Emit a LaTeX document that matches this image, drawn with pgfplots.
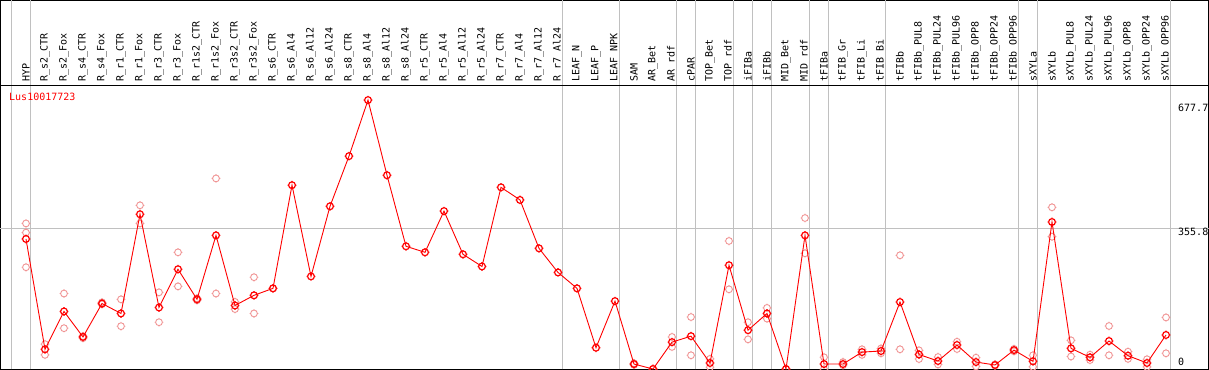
\documentclass[border=0pt]{standalone}
\usepackage{fontspec}
\usepackage{pgfplots}
\pgfplotsset{compat=1.18}
\newfontfamily\labfont{DejaVu Sans Mono}
\definecolor{gridgray}{HTML}{C0C0C0}
\definecolor{faint}{HTML}{F09494}
\pgfdeclareplotmark{tcirc}{%
  \pgfpathcircle{\pgfpointorigin}{\pgfplotmarksize}%
  \pgfpathmoveto{\pgfpoint{0pt}{\pgfplotmarksize}}\pgfpathlineto{\pgfpoint{0pt}{\pgfplotmarksize+0.9pt}}%
  \pgfpathmoveto{\pgfpoint{0pt}{-\pgfplotmarksize}}\pgfpathlineto{\pgfpoint{0pt}{-\pgfplotmarksize-0.9pt}}%
  \pgfpathmoveto{\pgfpoint{\pgfplotmarksize}{0pt}}\pgfpathlineto{\pgfpoint{\pgfplotmarksize+0.9pt}{0pt}}%
  \pgfpathmoveto{\pgfpoint{-\pgfplotmarksize}{0pt}}\pgfpathlineto{\pgfpoint{-\pgfplotmarksize-0.9pt}{0pt}}%
  \pgfusepathqstroke}
\pgfplotstableread{
x y
1 329
2 52
3 147
4 83
5 167
6 142
7 391
8 157
9 253
10 177.5
11 338
12 162
13 187.5
14 205
15 464
16 235
17 411
18 537
19 677.7
20 489
21 310.6
22 295.5
23 399
24 290.5
25 260
26 458.7
27 427
28 305.5
29 245
30 205
31 56
32 173
33 15
34 2.5
35 70
36 85
37 17.6
38 263
39 100
40 142
41 2.5
42 338
43 15
44 15
45 45
46 47.7
47 170.7
48 39
49 22.6
50 62.8
51 20
52 12.6
53 50
54 21.8
55 371.6
56 54.4
57 31.8
58 72.8
59 36
60 17.6
61 88
}\means
\pgfplotstableread{
x y
1 368
1 345
1 258
2 65
2 38
3 192
3 105
4 85
4 80
5 165
5 170
6 177.5
6 110
7 413.5
7 368
8 195
8 120
9 295.5
9 210
10 175
10 180
11 481
11 192
12 153
12 171
13 233
13 142
14 205
33 13
33 17
34 2
34 3
35 83
35 58
36 133
36 37
37 28
37 7
38 324
38 202.6
39 120
39 77
40 156
40 129
41 3
42 381.6
42 293
43 32
43 2
44 20
44 12
45 52
45 38
46 54
46 42
47 288
47 52
48 49.4
48 27.6
49 32.6
49 14
50 71
50 52.7
51 31
51 9
52 14
52 11
53 53
53 47
54 37
54 8
55 408.5
55 334.7
56 74.5
56 34
57 38.5
57 25
58 110.5
58 37
59 46
59 28
60 27
60 8
61 132
61 42
}\reps
\begin{document}
\begin{tikzpicture}
\begin{axis}[
  width=1208pt, height=369pt, scale only axis,
  xmin=-0.342, xmax=63.237, ymin=1.3, ymax=927.7,
  axis line style={black, line width=1pt},
  clip mode=individual,
  major tick length=0pt,
  xtick={1,...,61},
  xticklabels={HYP,R\_s2\_CTR,R\_s2\_Fox,R\_s4\_CTR,R\_s4\_Fox,R\_r1\_CTR,R\_r1\_Fox,R\_r3\_CTR,R\_r3\_Fox,R\_r1s2\_CTR,R\_r1s2\_Fox,R\_r3s2\_CTR,R\_r3s2\_Fox,R\_s6\_CTR,R\_s6\_Al4,R\_s6\_Al12,R\_s6\_Al24,R\_s8\_CTR,R\_s8\_Al4,R\_s8\_Al12,R\_s8\_Al24,R\_r5\_CTR,R\_r5\_Al4,R\_r5\_Al12,R\_r5\_Al24,R\_r7\_CTR,R\_r7\_Al4,R\_r7\_Al12,R\_r7\_Al24,LEAF\_N,LEAF\_P,LEAF\_NPK,SAM,AR\_Bet,AR\_rdf,cPAR,TOP\_Bet,TOP\_rdf,iFIBa,iFIBb,MID\_Bet,MID\_rdf,tFIBa,tFIB\_Gr,tFIB\_Li,tFIB\_Bi,tFIBb,tFIBb\_PUL8,tFIBb\_PUL24,tFIBb\_PUL96,tFIBb\_OPP8,tFIBb\_OPP24,tFIBb\_OPP96,sXYLa,sXYLb,sXYLb\_PUL8,sXYLb\_PUL24,sXYLb\_PUL96,sXYLb\_OPP8,sXYLb\_OPP24,sXYLb\_OPP96},
  xticklabel pos=upper,
  xticklabel style={font=\labfont\fontsize{10}{10}\selectfont, yshift=-81.5pt, rotate=90, anchor=west, inner sep=0pt},
  yticklabel style={inner sep=0pt},
  ytick=\empty,
  extra x ticks={0.23,1.23,29.23,32.23,35.23,36.23,38.23,39.23,40.23,42.23,43.23,46.23,53.23,54.23,61.23},
  extra x tick labels={},
  extra y ticks={355.8},
  extra y tick labels={},
  extra tick style={grid=major},
  major grid style={gridgray, line width=1pt},
]
\addplot[only marks, mark=tcirc, mark size=3.4pt, draw=faint, mark options={line width=0.9pt}] table[x=x, y=y] {\reps};
\addplot[red, line width=0.9pt, mark=tcirc, mark size=3.4pt, mark options={line width=1.2pt}] table[x=x, y=y] {\means};
\draw[black, line width=1pt] (axis cs:-0.342,715.5) -- (axis cs:63.237,715.5);
\node[anchor=west, inner sep=0pt, font=\labfont\fontsize{10}{10}\selectfont, text=red] at (axis cs:0.105,685) {Lus10017723};
\node[anchor=west, inner sep=0pt, font=\labfont\fontsize{10}{10}\selectfont] at (axis cs:61.63,658) {677.7};
\node[anchor=west, inner sep=0pt, font=\labfont\fontsize{10}{10}\selectfont] at (axis cs:61.63,346.5) {355.8};
\node[anchor=west, inner sep=0pt, font=\labfont\fontsize{10}{10}\selectfont] at (axis cs:61.63,20) {0};
\end{axis}
\pgfresetboundingbox
\useasboundingbox ([shift={(-0.5pt,-0.5pt)}]current axis.south west) rectangle ([shift={(0.5pt,0.5pt)}]current axis.north east);
\end{tikzpicture}
\end{document}
